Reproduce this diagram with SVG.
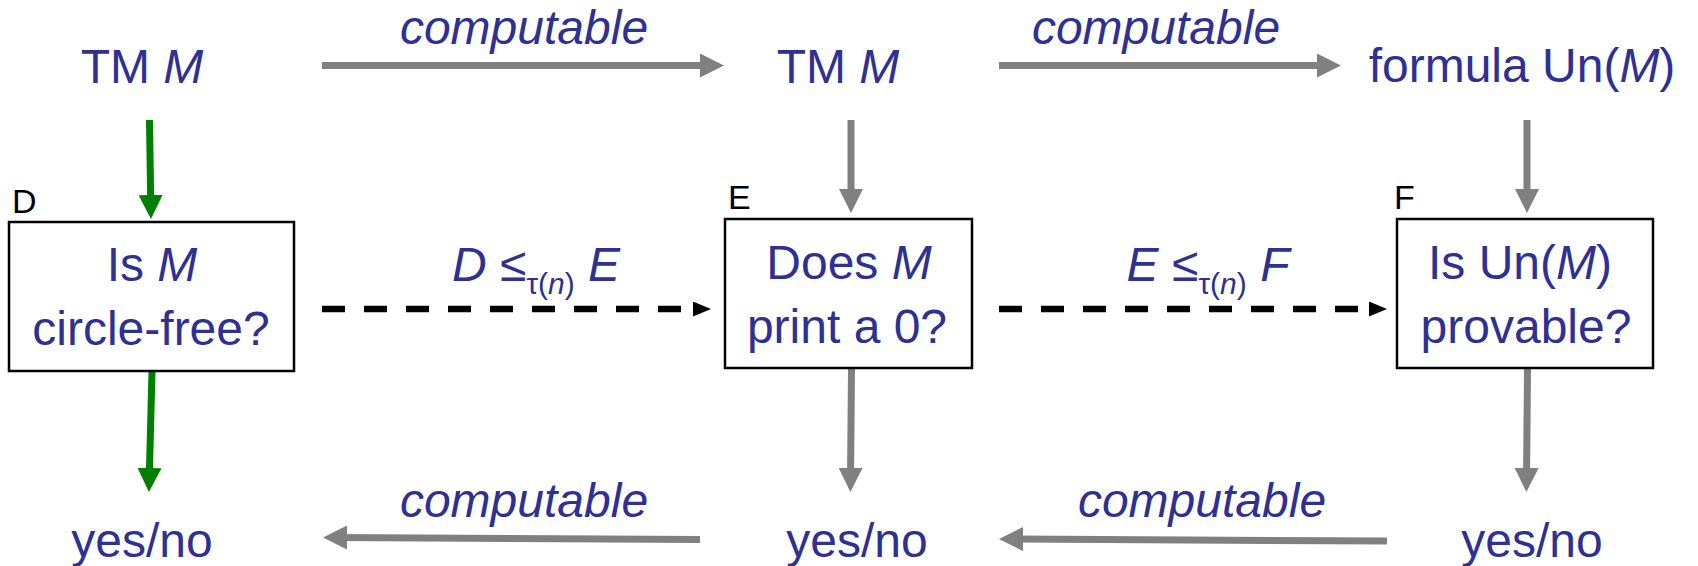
<svg xmlns="http://www.w3.org/2000/svg" width="1698" height="566" viewBox="0 0 1698 566">
  <defs>
    <style>
      .t { font-family: "Liberation Sans", Arial, sans-serif; font-size: 48px; fill: #2E3092; text-anchor: middle; }
      .i { font-style: italic; }
      .lbl { font-family: "Liberation Sans", Arial, sans-serif; font-size: 34px; fill: #000; }
      .box { fill: #fff; stroke: #000; stroke-width: 2.5; }
      .grey { stroke: #808080; stroke-width: 7; fill: none; }
      .green { stroke: #008000; stroke-width: 7; fill: none; }
      .dash { stroke: #000; stroke-width: 6.5; stroke-dasharray: 23 19; fill: none; }
    </style>
    <marker id="ah-grey" markerUnits="userSpaceOnUse" viewBox="0 0 24 24" refX="12" refY="12" markerWidth="24" markerHeight="24" orient="auto">
      <path d="M0,0 L24,12 L0,24 z" fill="#808080"/>
    </marker>
    <marker id="ah-green" markerUnits="userSpaceOnUse" viewBox="0 0 24 24" refX="12" refY="12" markerWidth="24" markerHeight="24" orient="auto">
      <path d="M0,0 L24,12 L0,24 z" fill="#008000"/>
    </marker>
    <marker id="ah-black" markerUnits="userSpaceOnUse" viewBox="0 0 18 15" refX="0" refY="7.5" markerWidth="18" markerHeight="15" orient="auto">
      <path d="M0,0 L18,7.5 L0,15 z" fill="#000"/>
    </marker>
  </defs>

  <rect width="1698" height="566" fill="#fff"/>

  <!-- connectors -->
  <g id="connectors">
    <!-- top row: machine to machine to formula -->
    <line class="grey" x1="322" y1="65.5" x2="712" y2="65.5" marker-end="url(#ah-grey)"/>
    <line class="grey" x1="999" y1="65.5" x2="1329" y2="65.5" marker-end="url(#ah-grey)"/>
    <!-- downward arrows into the problems -->
    <line class="green" x1="149.5" y1="120" x2="150.8" y2="207" marker-end="url(#ah-green)"/>
    <line class="grey" x1="851" y1="120" x2="851" y2="201" marker-end="url(#ah-grey)"/>
    <line class="grey" x1="1527" y1="120" x2="1527" y2="201" marker-end="url(#ah-grey)"/>
    <!-- downward arrows to the answers -->
    <line class="green" x1="152" y1="372" x2="149.2" y2="480" marker-end="url(#ah-green)"/>
    <line class="grey" x1="851.5" y1="369" x2="850.5" y2="480" marker-end="url(#ah-grey)"/>
    <line class="grey" x1="1527.5" y1="369" x2="1526.5" y2="480" marker-end="url(#ah-grey)"/>
    <!-- reductions -->
    <line class="dash" x1="322" y1="309" x2="693" y2="309" marker-end="url(#ah-black)"/>
    <line class="dash" x1="999" y1="309" x2="1369" y2="309" marker-end="url(#ah-black)"/>
    <!-- bottom row: answers carried back -->
    <line class="grey" x1="700" y1="539.5" x2="335" y2="537.5" marker-end="url(#ah-grey)"/>
    <line class="grey" x1="1387" y1="541" x2="1011" y2="539" marker-end="url(#ah-grey)"/>
    <!-- connector labels -->
    <text class="t i" x="524" y="44">computable</text>
    <text class="t i" x="1156" y="44">computable</text>
    <text class="t i" x="524" y="517">computable</text>
    <text class="t i" x="1202" y="517">computable</text>
    <text class="t" x="536" y="281" font-size="46"><tspan class="i">D</tspan> ≤<tspan font-size="30" dy="13">τ(<tspan class="i">n</tspan>)</tspan><tspan dy="-13"> </tspan><tspan class="i">E</tspan></text>
    <text class="t" x="1208" y="281" font-size="46"><tspan class="i">E</tspan> ≤<tspan font-size="30" dy="13">τ(<tspan class="i">n</tspan>)</tspan><tspan dy="-13"> </tspan><tspan class="i">F</tspan></text>
  </g>

  <!-- inputs -->
  <g id="tm-left">
    <text class="t" x="142" y="83">TM <tspan class="i">M</tspan></text>
  </g>
  <g id="tm-mid">
    <text class="t" x="838" y="83">TM <tspan class="i">M</tspan></text>
  </g>
  <g id="formula">
    <text class="t" x="1522" y="82">formula Un(<tspan class="i">M</tspan>)</text>
  </g>

  <!-- decision problems -->
  <g id="problem-D">
    <rect class="box" x="9" y="222" width="285" height="149"/>
    <text class="lbl" x="12" y="213">D</text>
    <text class="t" x="152" y="281">Is <tspan class="i">M</tspan></text>
    <text class="t" x="151" y="345">circle-free?</text>
  </g>
  <g id="problem-E">
    <rect class="box" x="725" y="219" width="247" height="149"/>
    <text class="lbl" x="728" y="209">E</text>
    <text class="t" x="849" y="279">Does <tspan class="i">M</tspan></text>
    <text class="t" x="847" y="343">print a 0?</text>
  </g>
  <g id="problem-F">
    <rect class="box" x="1397" y="219" width="256" height="149"/>
    <text class="lbl" x="1394" y="209">F</text>
    <text class="t" x="1520" y="279">Is Un(<tspan class="i">M</tspan>)</text>
    <text class="t" x="1526" y="343">provable?</text>
  </g>

  <!-- answers -->
  <g id="answer-D">
    <text class="t" x="142" y="557">yes/no</text>
  </g>
  <g id="answer-E">
    <text class="t" x="857" y="557">yes/no</text>
  </g>
  <g id="answer-F">
    <text class="t" x="1532" y="557">yes/no</text>
  </g>
</svg>
